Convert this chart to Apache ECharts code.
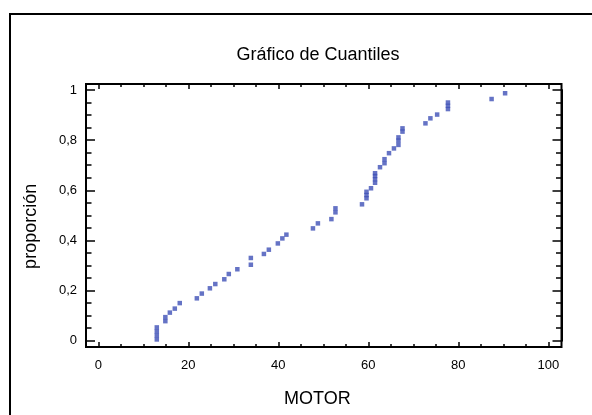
<!DOCTYPE html>
<html>
<head>
<meta charset="utf-8">
<script src="https://cdn.jsdelivr.net/npm/echarts@6/dist/echarts.min.js"></script>
<style>html,body{margin:0;padding:0;background:#fff;}#c{width:592px;height:415px;}</style>
</head>
<body>
<div id="c"></div>
<script>
var chartTitle = 'Gráfico de Cuantiles';
var xName = 'MOTOR';
var yName = 'proporción';
var xTickLabels = ['0', '20', '40', '60', '80', '100'];
var yTickLabels = ['0', '0,2', '0,4', '0,6', '0,8', '1'];
var motor = [13.0, 13.0, 13.0, 13.0, 14.9, 14.9, 15.9, 17.0, 18.1, 21.9,
             23.0, 24.8, 26.0, 28.0, 29.0, 30.9, 33.9, 33.9, 36.8, 37.9,
             39.9, 40.9, 41.8, 47.7, 48.8, 51.8, 52.7, 52.7, 58.6, 59.6,
             59.6, 59.6, 60.6, 61.5, 61.5, 61.5, 61.5, 62.6, 63.6, 63.6,
             64.6, 65.7, 66.7, 66.7, 66.7, 67.6, 67.6, 72.7, 73.8, 75.3,
             77.7, 77.7, 77.7, 87.4, 90.4];
var proporcion = [0.005, 0.021, 0.037, 0.053, 0.078, 0.094, 0.112, 0.128, 0.150, 0.169,
                  0.188, 0.209, 0.226, 0.245, 0.266, 0.285, 0.303, 0.330, 0.346, 0.363,
                  0.388, 0.408, 0.423, 0.448, 0.468, 0.485, 0.512, 0.528, 0.544, 0.568,
                  0.581, 0.594, 0.608, 0.630, 0.644, 0.657, 0.668, 0.692, 0.708, 0.724,
                  0.748, 0.767, 0.781, 0.798, 0.811, 0.834, 0.847, 0.867, 0.887, 0.902,
                  0.924, 0.937, 0.950, 0.964, 0.987];

var points = motor.map(function (m, i) { return [m, proporcion[i]]; });
var FONT = 'Liberation Sans, Arial, sans-serif';

function xFmt(v) { var i = Math.round(v / 20); return xTickLabels[i] !== undefined ? xTickLabels[i] : ''; }
function yFmt(v) { var i = Math.round(v / 0.2); return yTickLabels[i] !== undefined ? yTickLabels[i] : ''; }

function axisBase(extra) {
  var a = {
    type: 'value',
    axisLine: { show: true, onZero: false, lineStyle: { color: '#000', width: 2 } },
    splitLine: { show: false },
    axisTick: { show: true, inside: true, length: 5, lineStyle: { color: '#000', width: 1.5 } },
    minorTick: { show: true, splitNumber: 4, length: 3, lineStyle: { color: '#000', width: 1.5 } },
    axisLabel: { show: false }
  };
  for (var k in extra) a[k] = extra[k];
  return a;
}
var yMajorTick = { show: true, inside: true, length: 9, lineStyle: { color: '#000', width: 1.5 } };
var yMinorTick = { show: true, splitNumber: 4, length: 5.5, lineStyle: { color: '#000', width: 1.5 } };

var chart = echarts.init(document.getElementById('c'), null, { renderer: 'canvas' });
chart.setOption({
  animation: false,
  backgroundColor: '#fff',
  title: {
    text: chartTitle, left: 313, top: 41, textAlign: 'center',
    textStyle: { fontFamily: FONT, fontSize: 18, fontWeight: 'normal', color: '#000' }
  },
  grid: { left: 98.3, right: 43.7, top: 90, height: 250.7, containLabel: false },
  xAxis: [
    axisBase({
      position: 'bottom', min: 0, max: 100, interval: 20, offset: 6.3,
      name: xName, nameLocation: 'middle', nameGap: 43,
      nameTextStyle: { fontFamily: FONT, fontSize: 18, color: '#000', padding: [0, 12, 0, 0] },
      axisLabel: { show: true, margin: 12, fontFamily: FONT, fontSize: 13, color: '#000', formatter: xFmt }
    }),
    axisBase({ position: 'top', min: 0, max: 100, interval: 20, offset: 6 })
  ],
  yAxis: [
    axisBase({
      position: 'left', min: 0, max: 1, interval: 0.2, offset: 12.3,
      axisTick: yMajorTick, minorTick: yMinorTick,
      name: yName, nameLocation: 'middle', nameGap: 46,
      nameTextStyle: { fontFamily: FONT, fontSize: 18, color: '#000', padding: [0, 22, 0, 0] },
      axisLabel: { show: true, margin: 9, fontFamily: FONT, fontSize: 13, color: '#000', formatter: yFmt }
    }),
    axisBase({
      position: 'right', min: 0, max: 1, interval: 0.2, offset: 13.2,
      axisTick: yMajorTick, minorTick: yMinorTick
    })
  ],
  graphic: [
    { type: 'rect', silent: true, z: 10, shape: { x: 86, y: 84, width: 475.5, height: 263 },
      style: { fill: 'none', stroke: '#000', lineWidth: 2 } },
    { type: 'rect', silent: true, z: 10, shape: { x: 10, y: 14, width: 620, height: 440 },
      style: { fill: 'none', stroke: '#000', lineWidth: 2 } }
  ],
  series: [{
    type: 'scatter',
    xAxisIndex: 0, yAxisIndex: 0,
    symbol: 'rect', symbolSize: 4.5,
    itemStyle: { color: '#3f50b6' },
    data: points
  }]
});
</script>
</body>
</html>
